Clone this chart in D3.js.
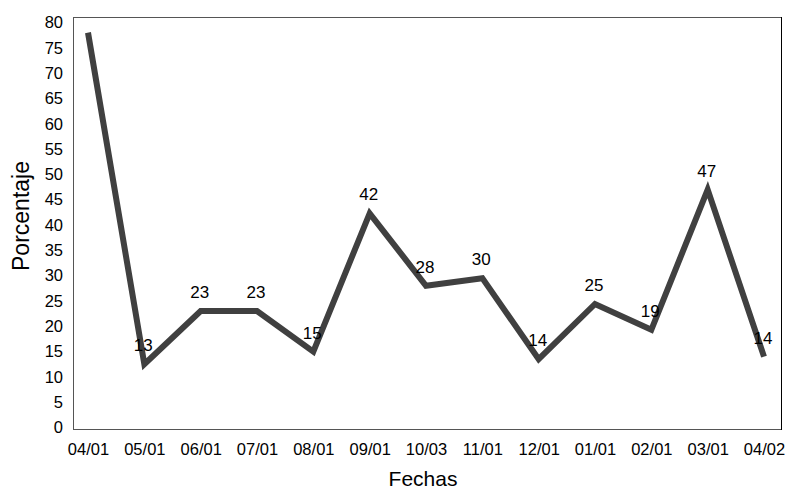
<!DOCTYPE html>
<html>
<head>
<meta charset="utf-8">
<script src="https://cdn.jsdelivr.net/npm/d3@7"></script>
<style>
  html, body { margin: 0; padding: 0; background: #fff; }
  svg { display: block; font-family: "Liberation Sans", Arial, Helvetica, sans-serif; }
</style>
</head>
<body>
<svg id="chart" width="792" height="492"></svg>
<script>
const categories = ["04/01","05/01","06/01","07/01","08/01","09/01","10/03","11/01","12/01","01/01","02/01","03/01","04/02"];
const values = [78, 12.5, 23, 23, 15, 42.3, 28, 29.5, 13.5, 24.4, 19.3, 47, 14];
const pointLabels = [null, "13", "23", "23", "15", "42", "28", "30", "14", "25", "19", "47", "14"];
const yTicks = [0,5,10,15,20,25,30,35,40,45,50,55,60,65,70,75,80];

const svg = d3.select("#chart");
const frame = {left: 73, right: 781, top: 17, bottom: 429};

const x = d3.scalePoint().domain(categories).range([88, 764]);
const y = d3.scaleLinear().domain([0, 80]).range([427.5, 22.5]);

// frame
svg.append("rect")
  .attr("x", frame.left + 0.5).attr("y", frame.top + 0.5)
  .attr("width", frame.right - frame.left).attr("height", frame.bottom - frame.top)
  .attr("fill", "none").attr("stroke", "#555").attr("stroke-width", 1);
svg.append("line")
  .attr("x1", frame.right + 0.5).attr("x2", frame.right + 0.5)
  .attr("y1", frame.top).attr("y2", frame.bottom + 1)
  .attr("stroke", "#000").attr("stroke-width", 1);

// y axis labels
const yAxis = d3.axisLeft(y).tickValues(yTicks).tickSize(0).tickPadding(0);
const gy = svg.append("g").attr("transform", `translate(63,0)`).call(yAxis);
gy.select(".domain").remove();
gy.selectAll("text").attr("font-size", "16.5px").attr("fill", "#000")
  .attr("font-family", "'Liberation Sans', Arial, sans-serif");

// x axis labels
const xAxis = d3.axisBottom(x).tickSize(0).tickPadding(0);
const gx = svg.append("g").attr("transform", `translate(0,443)`).call(xAxis);
gx.select(".domain").remove();
gx.selectAll("text").attr("font-size", "16.5px").attr("fill", "#000")
  .attr("font-family", "'Liberation Sans', Arial, sans-serif");

// line
const line = d3.line().x((d, i) => x(categories[i])).y(d => y(d));
svg.append("path").datum(values)
  .attr("d", line)
  .attr("fill", "none").attr("stroke", "#404040")
  .attr("stroke-width", 6).attr("stroke-linejoin", "miter").attr("stroke-miterlimit", 10);

// point labels
svg.append("g").selectAll("text")
  .data(values.map((v, i) => ({v, i})).filter(d => pointLabels[d.i]))
  .join("text")
  .attr("x", d => x(categories[d.i]) - 1)
  .attr("y", d => y(d.v) - 13)
  .attr("text-anchor", "middle")
  .attr("font-size", "17px").attr("fill", "#000")
  .text(d => pointLabels[d.i]);

// axis titles
svg.append("text").attr("x", 423).attr("y", 486)
  .attr("text-anchor", "middle").attr("font-size", "21px").attr("fill", "#000")
  .text("Fechas");
svg.append("text").attr("transform", "translate(29,216) rotate(-90)")
  .attr("text-anchor", "middle").attr("font-size", "23px").attr("fill", "#000")
  .text("Porcentaje");
</script>
</body>
</html>
